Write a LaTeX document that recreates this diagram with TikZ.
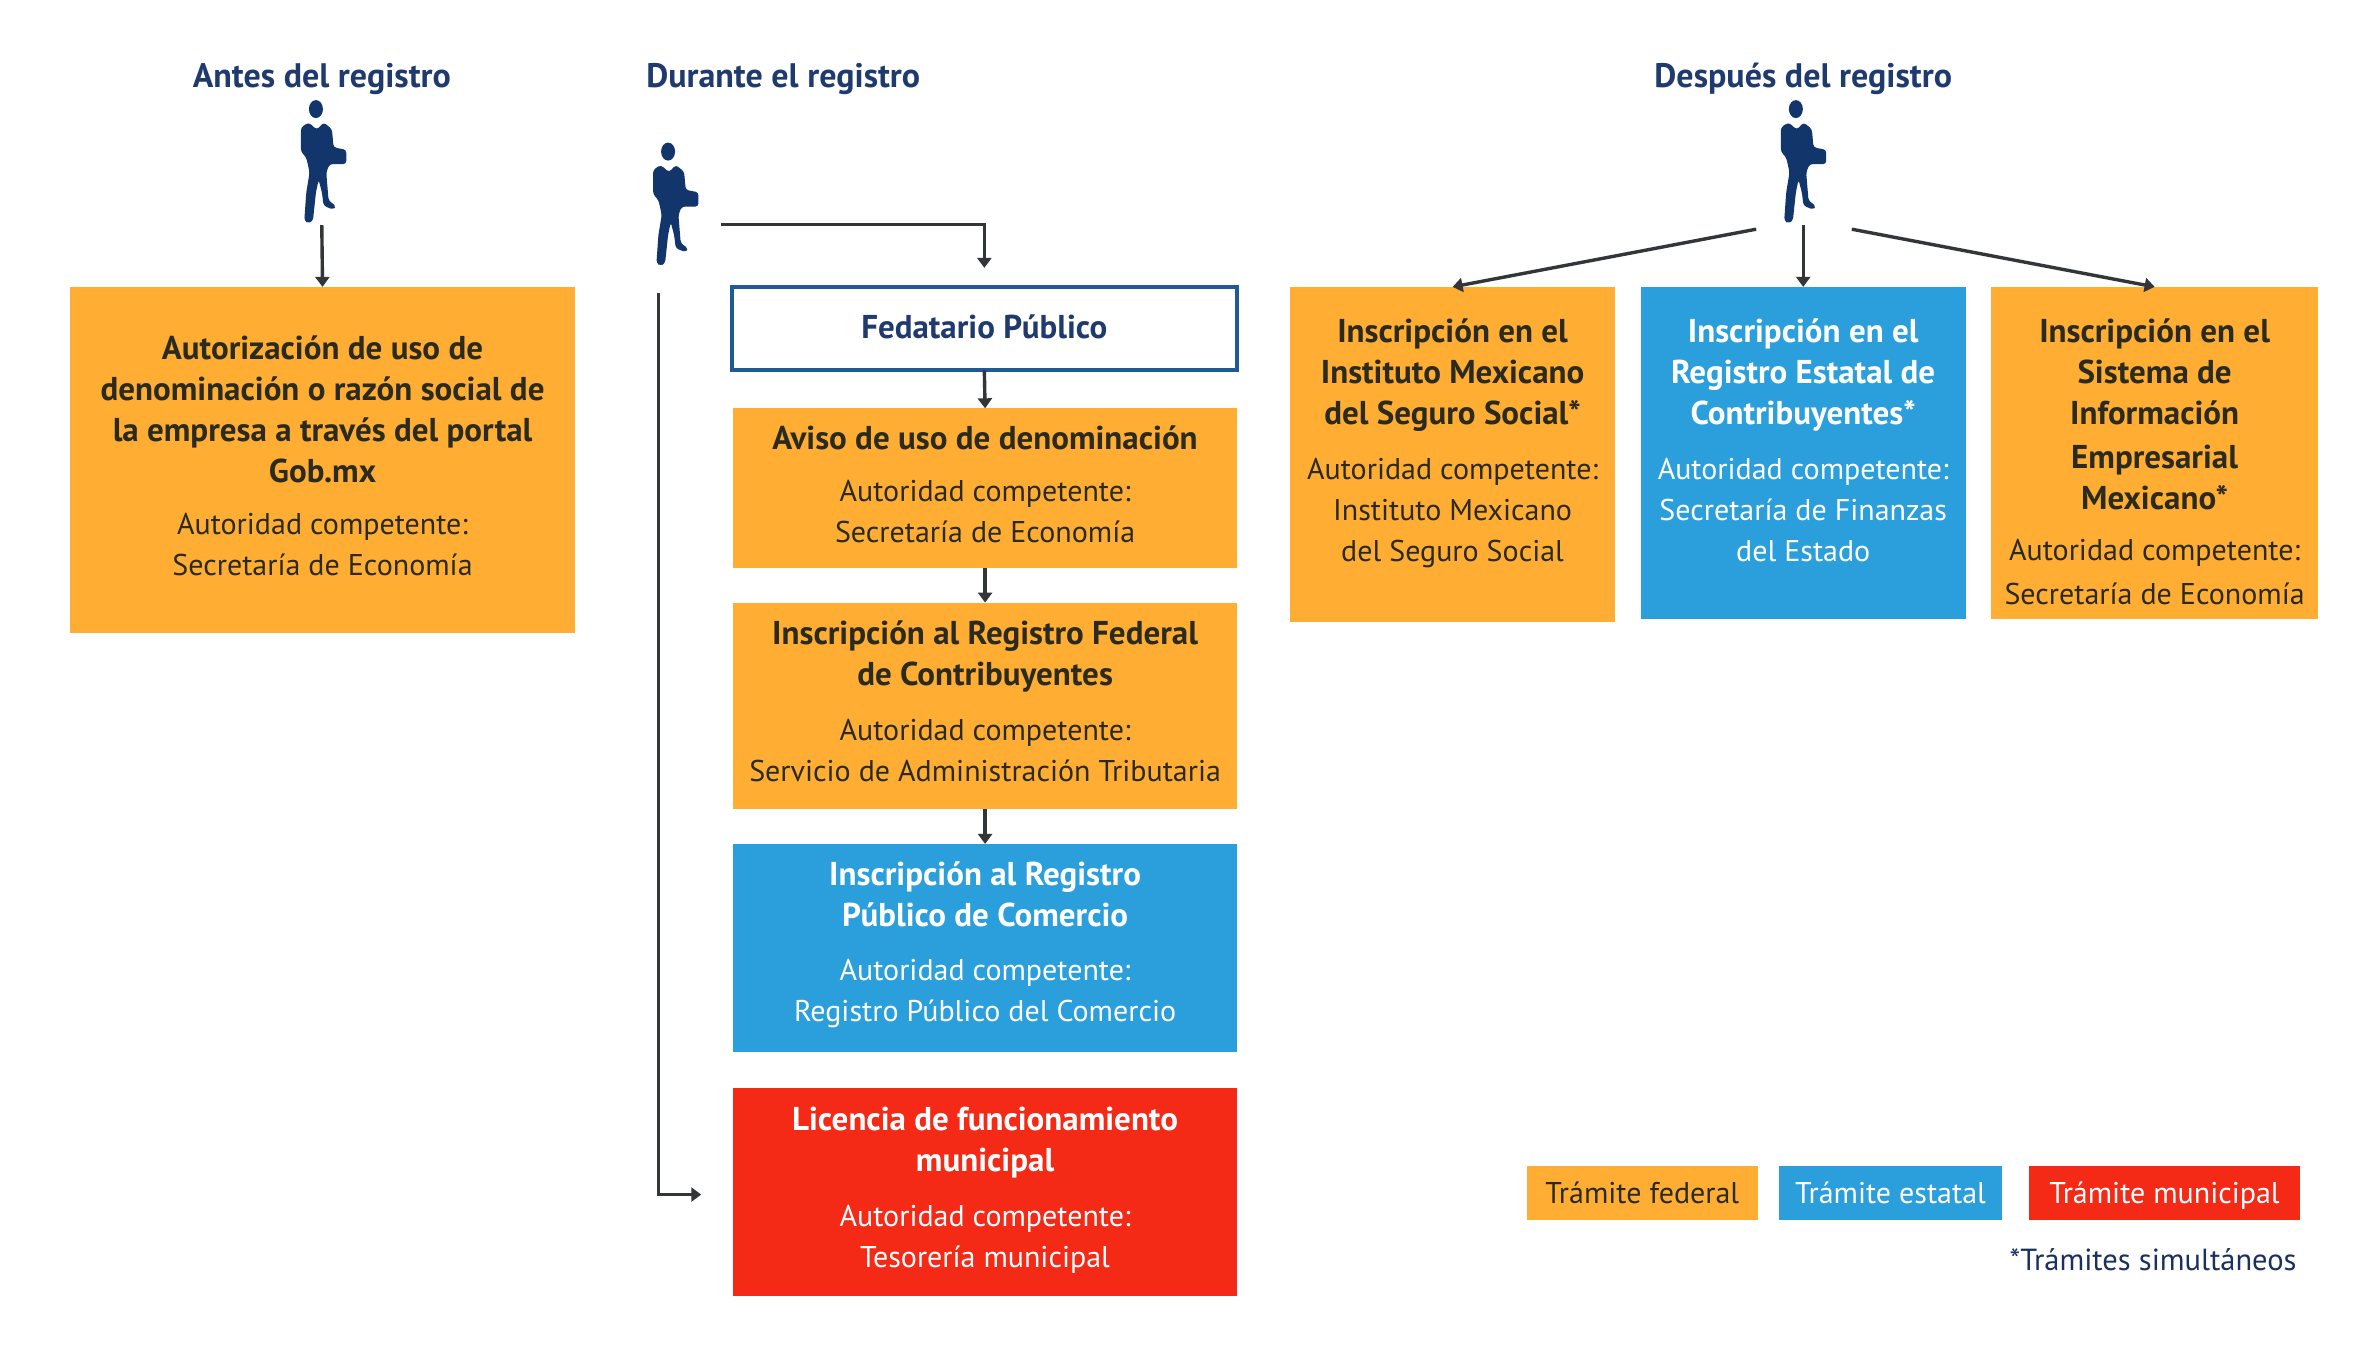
\documentclass[tikz,border=0pt]{standalone}
\usepackage{fontspec}
\setmainfont{PT Sans}
\usetikzlibrary{arrows.meta,calc}
\definecolor{naranja}{HTML}{FFAD33}
\definecolor{azul}{HTML}{2A9FDC}
\definecolor{rojo}{HTML}{F42A17}
\definecolor{marino}{HTML}{1F3A6E}
\definecolor{borde}{HTML}{1F5A96}
\definecolor{tinta}{HTML}{2A2A1E}
\definecolor{linea}{HTML}{333638}
\definecolor{persona}{HTML}{12356B}
\newcommand{\Tit}{\fontsize{33}{41}\selectfont\bfseries}
\newcommand{\Bx}[7]{% name, style, x0,y0,x1,y1, text
  \node[#2,minimum width={(#5-#3)*1.5179pt},minimum height={(#6-#4)*1.5179pt}] (#1) at ({(#3+#5)/2},{(#4+#6)/2}) {#7};}
\tikzset{
  txt/.style={font=\fontsize{30}{41}\selectfont,align=center,inner sep=0pt,outer sep=0pt},
  fed/.style={txt,fill=naranja,text=tinta},
  est/.style={txt,fill=azul,text=white},
  mun/.style={txt,fill=rojo,text=white},
  fedat/.style={txt,fill=white,draw=borde,line width=4pt,text=marino},
  head/.style={font=\fontsize{34}{40}\selectfont\bfseries,text=marino,inner sep=0pt},
  figura/.style={minimum width=48pt,minimum height=122pt,inner sep=0pt},
  con/.style={draw=linea,line width=3.4pt,-{Triangle[length=10pt,width=14pt]}},
  pics/person/.style={code={
    \begin{scope}[x=0.3333pt,y=-0.3333pt,shift={(-150,-210)}]
      \fill[persona] (137,50) ellipse [x radius=21,y radius=27];
      \fill[persona,rounded corners=3pt] (115,90) -- (92,105) -- (92,178) -- (108,195) -- (118,240)
        -- (108,300) -- (102,385) -- (115,393) -- (128,385) -- (137,300) -- (145,262) -- (155,300)
        -- (160,340) -- (190,352) -- (197,340) -- (175,325) -- (168,240) -- (178,215) -- (228,215)
        -- (228,172) -- (190,165) -- (185,110) -- (160,90) -- (140,112) -- cycle;
    \end{scope}}}
}
\begin{document}
\begin{tikzpicture}[x=1.5179pt,y=-1.5179pt]
\useasboundingbox (0,0) rectangle (1568,902.6);
\fill[white] (0,0) rectangle (1568,902.6);

% encabezados
\node[head] (h1) at (212,52) {Antes del registro};
\node[head] (h2) at (516,52) {Durante el registro};
\node[head] (h3) at (1188,52) {Después del registro};

% figuras
\node[figura] (p1) at (211,107) {};
\node[figura] (p2) at (443,135) {};
\node[figura] (p3) at (1186,107) {};
\pic at (p1) {person};
\pic at (p2) {person};
\pic at (p3) {person};

% cajas
\Bx{b1}{fed}{46}{189}{379}{417}{\Tit Autorización de uso de\\\Tit denominación o razón social de\\\Tit la empresa a través del portal\\\Tit Gob.mx\\[11pt]Autoridad competente:\\Secretaría de Economía\\[-32pt]\mbox{}}
\Bx{fp}{fedat}{482}{189}{815}{244}{\Tit Fedatario Público\\[-36pt]\mbox{}}
\Bx{av}{fed}{483}{269}{815}{374}{\Tit Aviso de uso de denominación\\[11pt]Autoridad competente:\\Secretaría de Economía\\[-33pt]\mbox{}}
\Bx{rf}{fed}{483}{397}{815}{533}{\Tit Inscripción al Registro Federal\\\Tit de Contribuyentes\\[14pt]Autoridad competente:\\Servicio de Administración Tributaria\\[-32pt]\mbox{}}
\Bx{rp}{est}{483}{556}{815}{693}{\Tit Inscripción al Registro\\\Tit Público de Comercio\\[13pt]Autoridad competente:\\Registro Público del Comercio\\[-29pt]\mbox{}}
\Bx{lm}{mun}{483}{717}{815}{854}{\Tit Licencia de funcionamiento\\\Tit municipal\\[14pt]Autoridad competente:\\Tesorería municipal\\[-30pt]\mbox{}}
\Bx{im}{fed}{850}{189}{1064}{410}{\Tit Inscripción en el\\\Tit Instituto Mexicano\\\Tit del Seguro Social*\\[14pt]Autoridad competente:\\Instituto Mexicano\\del Seguro Social\\[-13pt]\mbox{}}
\Bx{re}{est}{1081}{189}{1295}{408}{\Tit Inscripción en el\\\Tit Registro Estatal de\\\Tit Contribuyentes*\\[14pt]Autoridad competente:\\Secretaría de Finanzas\\del Estado\\[-16pt]\mbox{}}
\Bx{si}{fed}{1312}{189}{1527}{408}{\mbox{}\\[0pt]\Tit Inscripción en el\\\Tit Sistema de\\\Tit Información\\[3pt]\Tit Empresarial\\\Tit Mexicano*\\[10pt]Autoridad competente:\\[3pt]Secretaría de Economía}

% leyenda
\Bx{l1}{fed}{1006}{768}{1158}{804}{Trámite federal}
\Bx{l2}{est}{1172}{768}{1319}{804}{Trámite estatal}
\Bx{l3}{mun}{1337}{768}{1515}{804}{\smash{Trámite municipal}\vphantom{T}}
\node[txt,font=\fontsize{30.5}{41}\selectfont,text=marino!85!black,anchor=east] (nota) at (1513,830) {*Trámites simultáneos};

% extremos libres
\coordinate (s2) at (475,148);
\coordinate (s2b) at (434,193);
\coordinate (e2b) at (462,787);
\coordinate (s3a) at (1157,151);
\coordinate (s3c) at (1220,151);

% conectores
\draw[con] (p1.south) ++(1,1) -- (b1.north);
\draw[con,shorten >=19pt] (s2) -| (fp.north);
\draw[con] (fp.south) -- (av.north);
\draw[con] (av.south) -- (rf.north);
\draw[con] (rf.south) -- (rp.north);
\draw[con] (s2b) |- (e2b);
\draw[con] (s3a) -- (im.north);
\draw[con] (p3.south) ++(2,1) -- (re.north);
\draw[con] (s3c) -- (si.north);
\end{tikzpicture}
\end{document}
